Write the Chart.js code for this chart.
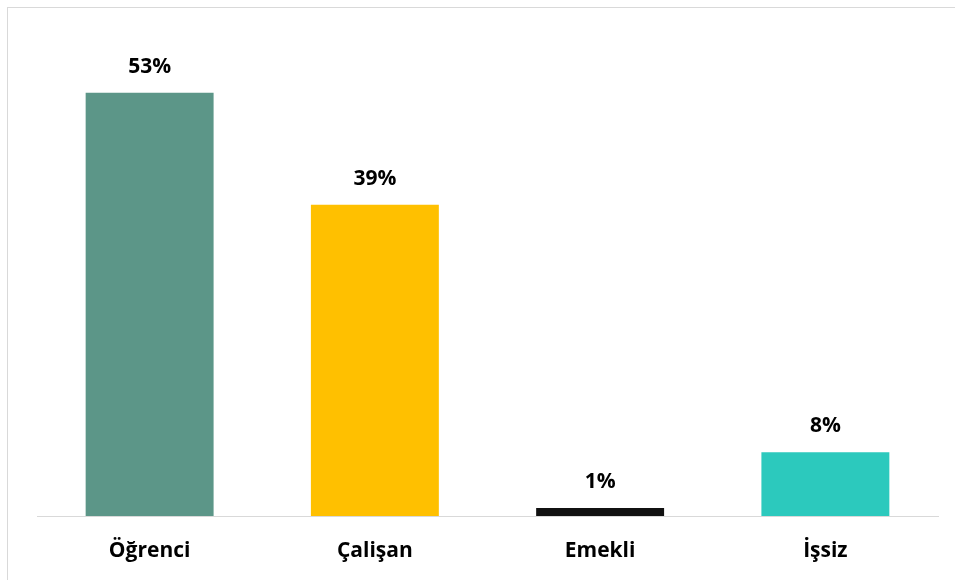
<!DOCTYPE html>
<html>
<head>
<meta charset="utf-8">
<script src="https://cdn.jsdelivr.net/npm/chart.js@4"></script>
<style>
  html, body { margin: 0; padding: 0; background: #fff; overflow: hidden; }
  #frame {
    position: absolute; left: 7px; top: 7px; width: 960px; height: 590px;
    border-top: 1px solid #d9d9d9; border-left: 1px solid #d9d9d9;
  }
  #wrap { position: absolute; left: 0; top: 0; width: 955px; height: 580px; }
</style>
</head>
<body>
<div id="frame"></div>
<div id="wrap"><canvas id="chart"></canvas></div>
<script>
var categories = ["Öğrenci", "Çalişan", "Emekli", "İşsiz"];
var shares = [53, 39, 1, 8];
var barColors = ["#5c9688", "#ffc000", "#111111", "#2cc9bd"];

var FONT = "'Open Sans', 'DejaVu Sans', sans-serif";

// percent labels above each bar
var valueLabels = {
    id: "valueLabels",
    afterDatasetsDraw: function(chart) {
        var ctx = chart.ctx;
        var meta = chart.getDatasetMeta(0);
        ctx.save();
        ctx.font = "bold 21px " + FONT;
        ctx.fillStyle = "#000";
        ctx.textAlign = "center";
        ctx.textBaseline = "alphabetic";
        meta.data.forEach(function(bar, i) {
            ctx.fillText(shares[i] + "%", bar.x, bar.y - 20);
        });
        ctx.restore();
    }
};

new Chart(document.getElementById("chart"), {
    type: "bar",
    data: {
        labels: categories,
        datasets: [{
            data: shares,
            backgroundColor: barColors,
            barPercentage: 0.568,
            categoryPercentage: 1
        }]
    },
    options: {
        responsive: true,
        maintainAspectRatio: false,
        animation: false,
        layout: { padding: { left: 37, right: 17, top: 21, bottom: 16 } },
        plugins: { legend: { display: false }, tooltip: { enabled: false } },
        scales: {
            x: {
                grid: { display: false, drawTicks: false },
                border: { display: true, color: "#d9d9d9", width: 1 },
                ticks: { padding: 22, color: "#000", font: { family: FONT, size: 21, weight: "bold" } },
                afterFit: function(scale) { scale.height = 48; }
            },
            y: {
                display: false,
                min: 0,
                max: 62
            }
        }
    },
    plugins: [valueLabels]
});
</script>
</body>
</html>
